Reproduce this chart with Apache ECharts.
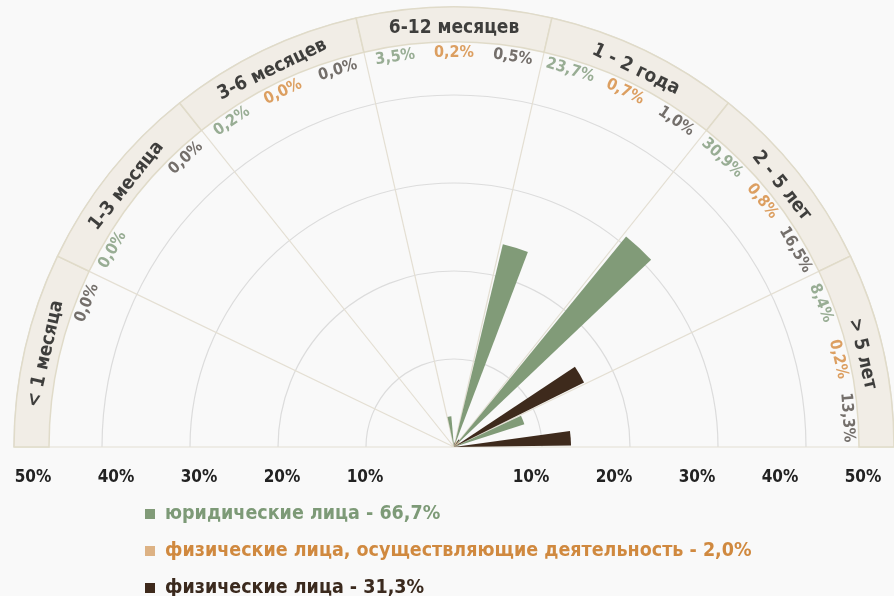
<!DOCTYPE html>
<html>
<head>
<meta charset="utf-8">
<script src="https://cdn.jsdelivr.net/npm/echarts@6/dist/echarts.min.js"></script>
<style>
html,body{margin:0;padding:0;background:#f9f9f9;}
#chart{width:894px;height:596px;}
</style>
</head>
<body>
<div id="chart"></div>
<script>
const categories = ['< 1 месяца', '1-3 месяца', '3-6 месяцев', '6-12 месяцев', '1 - 2 года', '2 - 5 лет', '> 5 лет'];
const legalEntities = [null, 0.0, 0.2, 3.5, 23.7, 30.9, 8.4];
const entrepreneurs = [null, null, 0.0, 0.2, 0.7, 0.8, 0.2];
const individuals = [0.0, 0.0, 0.0, 0.5, 1.0, 16.5, 13.3];
const seriesNames = ['юридические лица - 66,7%', 'физические лица, осуществляющие деятельность - 2,0%', 'физические лица - 31,3%'];

const FONT = "'Liberation Sans Narrow', 'DejaVu Sans Condensed', 'Noto Sans', sans-serif";
const barColors = ['#819b78', '#ddb284', '#3e2a1c'];
const textColors = ['#7f9a7a', '#d4883b', '#524c47'];
const legendTextColors = ['#7d9a77', '#d0893f', '#3b2a1e'];
const allSeries = [legalEntities, entrepreneurs, individuals];
const CX = 454, CY = 447, R = 440;

function fmt(v) { return v.toFixed(1).replace('.', ',') + '%'; }
function tangentRotate(a) { // a: position on value angle axis 0..7
  const theta = 180 - a / categories.length * 180;
  return theta - 90;
}

const pctLabels = [];
allSeries.forEach((arr, s) => {
  arr.forEach((v, i) => {
    if (v === null) return;
    const a = i + (2 * s + 1) / 6;
    pctLabels.push({
      value: [44.8, a],
      label: { formatter: fmt(v), color: textColors[s], rotate: tangentRotate(a) }
    });
  });
});
const catLabels = categories.map((c, i) => ({
  value: [47.6, i + 0.5],
  label: { formatter: c, rotate: tangentRotate(i + 0.5) }
}));
const bandData = categories.map(() => 1);

const chart = echarts.init(document.getElementById('chart'));
const option = {
  backgroundColor: '#f9f9f9',
  animation: false,
  polar: [
    { center: [CX, CY], radius: R },
    { center: [CX, CY], radius: [405, R] },
    { center: [CX, CY], radius: R }
  ],
  angleAxis: [
    { polarIndex: 0, type: 'category', data: categories, startAngle: 180, endAngle: 0, clockwise: true,
      axisLine: { show: false }, axisTick: { show: false }, axisLabel: { show: false },
      splitLine: { show: true, lineStyle: { color: '#e4dfd3', width: 1.2 } }, z: 1 },
    { polarIndex: 1, type: 'category', data: categories, startAngle: 180, endAngle: 0, clockwise: true,
      axisLine: { show: false }, axisTick: { show: false }, axisLabel: { show: false },
      splitLine: { show: false } },
    { polarIndex: 2, type: 'value', min: 0, max: categories.length, startAngle: 180, endAngle: 0, clockwise: true,
      axisLine: { show: false }, axisTick: { show: false }, axisLabel: { show: false }, splitLine: { show: false } }
  ],
  radiusAxis: [
    { polarIndex: 0, min: 0, max: 50, interval: 10,
      axisLine: { show: false }, axisTick: { show: false }, axisLabel: { show: false },
      splitLine: { show: true, lineStyle: { color: '#dcdcdc', width: 1.2 } } },
    { polarIndex: 1, min: 0, max: 1, interval: 1,
      axisLine: { show: false }, axisTick: { show: false }, axisLabel: { show: false },
      splitLine: { show: false } },
    { polarIndex: 2, min: 0, max: 50,
      axisLine: { show: false }, axisTick: { show: false }, axisLabel: { show: false }, splitLine: { show: false } }
  ],
  grid: { left: 33, width: 830, top: 446, height: 1 },
  xAxis: {
    type: 'value', min: -50, max: 50, interval: 10,
    axisLine: { show: false }, axisTick: { show: false }, splitLine: { show: false },
    axisLabel: {
      margin: 22, fontFamily: FONT, fontWeight: 'bold', fontSize: 17, color: '#222222',
      formatter: v => (v === 0 ? '' : Math.abs(v) + '%'), showMinLabel: true, showMaxLabel: true
    }
  },
  yAxis: { type: 'value', show: false },
  legend: {
    orient: 'vertical', left: 145, top: 504, height: 100, padding: 0, itemWidth: 10, itemHeight: 10, itemGap: 17, icon: 'rect',
    textStyle: { fontFamily: FONT, fontWeight: 'bold', fontSize: 19.5, lineHeight: 19, padding: [0, 0, 0, 5] },
    data: seriesNames.map((n, s) => ({ name: n, textStyle: { color: legendTextColors[s] } }))
  },
  series: [
    { type: 'bar', coordinateSystem: 'polar', polarIndex: 1, data: bandData, barWidth: '100%', silent: true,
      itemStyle: { color: '#f1ede6', borderColor: '#e0dbc9', borderWidth: 1.5 }, z: 2 },
    ...allSeries.map((arr, s) => ({
      name: seriesNames[s], type: 'bar', coordinateSystem: 'polar', polarIndex: 0,
      data: arr, barWidth: '28%', barGap: '19%', itemStyle: { color: barColors[s] }, z: 5
    })),
    { type: 'scatter', coordinateSystem: 'polar', polarIndex: 2, symbolSize: 1,
      itemStyle: { color: 'rgba(0,0,0,0)' }, silent: true, z: 6,
      label: { show: true, position: 'inside', fontFamily: FONT, fontWeight: 'bold', fontSize: 16 },
      data: pctLabels },
    { type: 'scatter', coordinateSystem: 'polar', polarIndex: 2, symbolSize: 1,
      itemStyle: { color: 'rgba(0,0,0,0)' }, silent: true, z: 6,
      label: { show: true, position: 'inside', fontFamily: FONT, fontWeight: 'bold', fontSize: 19, color: '#111111' },
      data: catLabels }
  ]
};
chart.setOption(option);
</script>
</body>
</html>
